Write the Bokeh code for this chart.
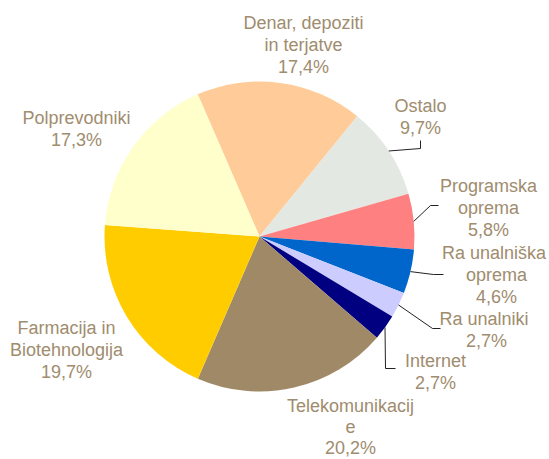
import math
from bokeh.plotting import figure
from bokeh.models import Range1d
from bokeh.embed import file_html
from bokeh.resources import INLINE
from bokeh.core.properties import value

# ---- data (clockwise, starting with the top slice) ----
categories = ["Denar, depoziti in terjatve", "Ostalo", "Programska oprema",
              "Ra  unalniška oprema", "Ra  unalniki", "Internet",
              "Telekomunikacije", "Farmacija in Biotehnologija", "Polprevodniki"]
shares = [17.4, 9.7, 5.8, 4.6, 2.7, 2.7, 20.2, 19.7, 17.3]
share_labels = ["17,4%", "9,7%", "5,8%", "4,6%", "2,7%", "2,7%", "20,2%", "19,7%", "17,3%"]
label_lines = [["Denar, depoziti", "in terjatve"], ["Ostalo"], ["Programska", "oprema"],
               ["Ra  unalniška", "oprema"], ["Ra  unalniki"], ["Internet"],
               ["Telekomunikacij", "e"], ["Farmacija in", "Biotehnologija"], ["Polprevodniki"]]

# ---- styles / layout ----
colors = ["#FFCC99", "#E3E8E3", "#FF8080", "#0066CC", "#CCCCFF", "#000080",
          "#A08966", "#FFCC00", "#FFFFCC"]
TEXT_COLOR = "#A08C6E"
W, H = 549, 459
CX, CY, R = 259, 236, 155          # pie centre / radius in page pixels
START = -23.5                       # degrees clockwise from 12 o'clock
label_pos = [(303, 22), (420, 105), (488, 185), (496, 252), (486, 318),
             (435, 360), (350, 405), (66, 327), (76, 117)]   # x centre, first line y
line_steps = [22, 22, 22, 22, 22, 22, 21, 22, 22]
leader_elbows = [None, [(420, 148), (420, 140)], [(430, 205), (438, 205)],
                 [(433, 274), (443, 274)], [(432, 328), (440, 328)],
                 [(385, 368), (395, 368)], None, None, None]


def dx(px):
    return px


def dy(py):
    return H - py


p = figure(width=W, height=H, output_backend="svg", toolbar_location=None,
           x_range=Range1d(0, W), y_range=Range1d(0, H), min_border=0)
p.axis.visible = False
p.grid.visible = False
p.outline_line_color = None
p.background_fill_color = "white"

total = sum(shares)
theta = START
starts, ends, mids = [], [], []
for s in shares:
    t0 = theta
    t1 = theta + s / total * 360.0
    starts.append(math.radians(90 - t1))
    ends.append(math.radians(90 - t0))
    mids.append((t0 + t1) / 2)
    theta = t1

p.wedge(x=[dx(CX)] * len(shares), y=[dy(CY)] * len(shares), radius=R,
        start_angle=starts, end_angle=ends, fill_color=colors, line_color=None)

# leader lines
xs, ys = [], []
for m, elb in zip(mids, leader_elbows):
    if elb is None:
        continue
    ex = CX + R * math.sin(math.radians(m))
    ey = CY - R * math.cos(math.radians(m))
    pts = [(ex, ey)] + elb
    xs.append([dx(a) for a, b in pts])
    ys.append([dy(b) for a, b in pts])
p.multi_line(xs=xs, ys=ys, line_color="#222222", line_width=1)

# labels
tx, ty, tt = [], [], []
for (lx, ly), step, lines, pct in zip(label_pos, line_steps, label_lines, share_labels):
    for i, line in enumerate(lines + [pct]):
        tx.append(dx(lx))
        ty.append(dy(ly + i * step))
        tt.append(line)
p.text(x=tx, y=ty, text=tt, text_align="center", text_baseline="middle",
       text_font=value("Liberation Sans"), text_font_size="18px",
       text_color=TEXT_COLOR)

open("out.html", "w").write(file_html(p, INLINE))
